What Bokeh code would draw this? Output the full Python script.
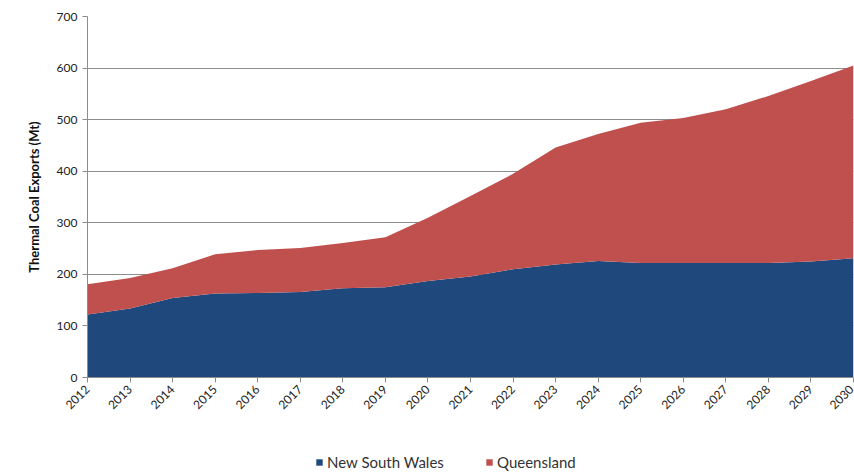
from math import pi
from bokeh.plotting import figure
from bokeh.layouts import column
from bokeh.models import ColumnDataSource, FixedTicker, Legend, LegendItem, Range1d
from bokeh.embed import file_html
from bokeh.resources import INLINE

years = list(range(2012, 2031))
year_labels = [str(y) for y in years]
nsw = [122, 134, 154, 163, 164, 166, 173, 175, 187, 196, 210, 219, 226, 222, 222, 222, 222, 225, 231]
total = [181, 193, 212, 239, 247, 251, 261, 272, 310, 352, 395, 446, 472, 494, 503, 520, 546, 575, 605]
qld = [t - n for t, n in zip(total, nsw)]
y_ticks = [0, 100, 200, 300, 400, 500, 600, 700]
series_names = ["New South Wales", "Queensland"]
colors = ["#1F497D", "#C0504D"]

FONT = "Lato"
src = ColumnDataSource(dict(year=years, nsw=nsw, qld=qld))

p = figure(width=854, height=445, output_backend="svg", toolbar_location=None,
           x_range=Range1d(2012, 2030), y_range=Range1d(0, 700),
           min_border_left=87, min_border_right=1, min_border_top=16, min_border_bottom=68)
p.outline_line_color = None
p.background_fill_color = "white"
p.border_fill_color = "white"

r = p.varea_stack(["nsw", "qld"], x="year", color=colors, source=src)

p.xgrid.grid_line_color = None
p.ygrid.grid_line_color = "#8C8C8C"
p.ygrid.ticker = FixedTicker(ticks=y_ticks)

p.yaxis.ticker = FixedTicker(ticks=y_ticks)
p.xaxis.ticker = FixedTicker(ticks=years)
p.xaxis.major_label_overrides = {y: s for y, s in zip(years, year_labels)}
p.xaxis.major_label_orientation = pi / 4
for ax in (p.xaxis, p.yaxis):
    ax.axis_line_color = "#8C8C8C"
    ax.major_tick_line_color = "#8C8C8C"
    ax.major_tick_out = 5
    ax.major_tick_in = 0
    ax.minor_tick_line_color = None
    ax.major_label_text_font = FONT
    ax.major_label_text_font_size = "12px"
    ax.major_label_text_color = "#222222"
p.yaxis.axis_label = "Thermal Coal Exports (Mt)"
p.yaxis.axis_label_text_font = FONT
p.yaxis.axis_label_text_font_style = "bold"
p.yaxis.axis_label_text_font_size = "13px"
p.yaxis.axis_label_text_color = "#111111"
p.yaxis.axis_label_standoff = 12

# legend strip below the chart
lg = figure(width=854, height=27, output_backend="svg", toolbar_location=None,
            x_range=Range1d(0, 1), y_range=Range1d(0, 1),
            min_border=0, min_border_left=0, min_border_right=0, min_border_top=0, min_border_bottom=0)
lg.outline_line_color = None
lg.axis.visible = False
lg.grid.visible = False
items = []
for name, c in zip(series_names, colors):
    # swatch source only; placed outside the visible range so only the legend shows it
    rr = lg.quad(left=[5], right=[6], top=[5], bottom=[6], fill_color=c, line_color=None)
    items.append(LegendItem(label=name, renderers=[rr]))
legend = Legend(items=items, orientation="horizontal", location=(228, 1),
                label_text_font=FONT, label_text_font_size="15px", label_text_color="#333333",
                glyph_width=8, glyph_height=8, spacing=8, label_width=150, label_height=16,
                border_line_color=None, background_fill_alpha=0, padding=0, margin=0,
                label_standoff=4)
lg.add_layout(legend, "center")

layout = column(p, lg, spacing=0)
open("out.html", "w").write(file_html(layout, INLINE))
